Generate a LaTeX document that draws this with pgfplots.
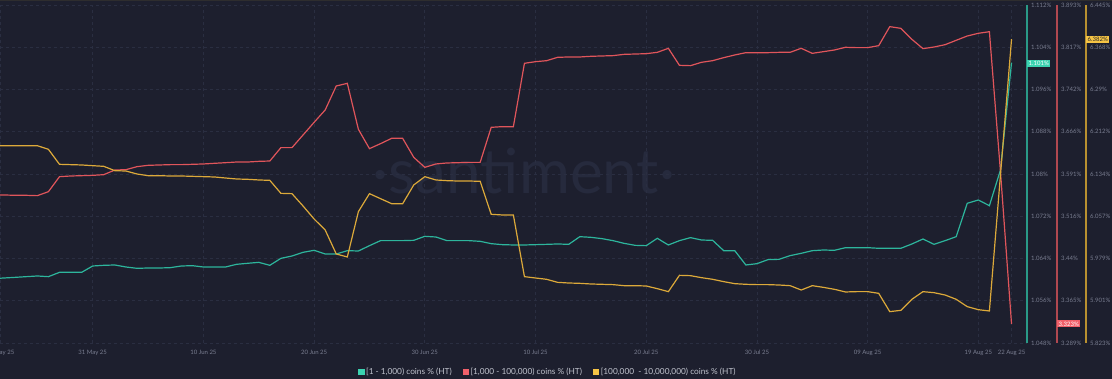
\documentclass[border=0pt]{standalone}
\usepackage{pgfplots}
\usepackage{pgfplotstable}
\pgfplotsset{compat=1.18}
\usepackage{fontspec}
\setmainfont{Lato}
\definecolor{bg}{HTML}{1D1F2E}
\definecolor{gridc}{HTML}{2A2E41}
\definecolor{tealc}{HTML}{2DB59C}
\definecolor{redc}{HTML}{E0555B}
\definecolor{yelc}{HTML}{DCA93A}
\definecolor{tealax}{HTML}{2A9A88}
\definecolor{redax}{HTML}{B04850}
\definecolor{yelax}{HTML}{B89030}
\definecolor{tealbadge}{HTML}{3BD2B0}
\definecolor{redbadge}{HTML}{F0606A}
\definecolor{yelbadge}{HTML}{F6C445}
\definecolor{tickc}{HTML}{7A7E91}
\definecolor{legc}{HTML}{BFC2CC}
\definecolor{wmc}{HTML}{262A3D}

\pgfplotstableread{
d v
-9 1.06018
-8 1.06031
-7 1.06043
-6 1.06056
-5 1.06069
-4 1.06056
-3 1.06138
-2 1.06138
-1 1.06138
0 1.06258
1 1.06271
2 1.06277
3 1.06239
4 1.06214
5 1.06220
6 1.06220
7 1.06226
8 1.06258
9 1.06264
10 1.06239
11 1.06239
12 1.06239
13 1.06290
14 1.06309
15 1.06327
16 1.06271
17 1.06403
18 1.06447
19 1.06517
20 1.06555
21 1.06485
22 1.06485
23 1.06548
24 1.06542
25 1.06643
26 1.06738
27 1.06738
28 1.06738
29 1.06744
30 1.06820
31 1.06807
32 1.06738
33 1.06738
34 1.06738
35 1.06725
36 1.06681
37 1.06662
38 1.06656
39 1.06656
40 1.06662
41 1.06668
42 1.06675
43 1.06668
44 1.06813
45 1.06801
46 1.06776
47 1.06738
48 1.06687
49 1.06649
50 1.06643
51 1.06782
52 1.06656
53 1.06738
54 1.06795
55 1.06750
56 1.06744
57 1.06548
58 1.06548
59 1.06277
60 1.06302
61 1.06378
62 1.06384
63 1.06454
64 1.06498
65 1.06548
66 1.06561
67 1.06555
68 1.06605
69 1.06605
70 1.06605
71 1.06593
72 1.06593
73 1.06593
74 1.06675
75 1.06769
76 1.06668
77 1.06738
78 1.06813
79 1.07445
80 1.07508
81 1.07400
82 1.08076
83 1.10108
}\tealtab

\pgfplotstableread{
d v
-9 3.5535
-8 3.5535
-7 3.5529
-6 3.5529
-5 3.5523
-4 3.5594
-3 3.5862
-2 3.5874
-1 3.5880
0 3.5886
1 3.5898
2 3.5981
3 3.5987
4 3.6041
5 3.6065
6 3.6071
7 3.6077
8 3.6077
9 3.6083
10 3.6089
11 3.6101
12 3.6112
13 3.6124
14 3.6124
15 3.6136
16 3.6142
17 3.6381
18 3.6381
19 3.6607
20 3.6833
21 3.7054
22 3.7483
23 3.7530
24 3.6708
25 3.6363
26 3.6452
27 3.6547
28 3.6547
29 3.6208
30 3.6029
31 3.6089
32 3.6107
33 3.6112
34 3.6118
35 3.6118
36 3.6744
37 3.6756
38 3.6756
39 3.7888
40 3.7917
41 3.7935
42 3.7995
43 3.8001
44 3.8001
45 3.8013
46 3.8019
47 3.8025
48 3.8048
49 3.8054
50 3.8060
51 3.8084
52 3.8156
53 3.7852
54 3.7846
55 3.7906
56 3.7935
57 3.7989
58 3.8037
59 3.8078
60 3.8078
61 3.8078
62 3.8084
63 3.8084
64 3.8156
65 3.8066
66 3.8096
67 3.8126
68 3.8174
69 3.8168
70 3.8168
71 3.8203
72 3.8543
73 3.8513
74 3.8316
75 3.8150
76 3.8179
77 3.8221
78 3.8299
79 3.8376
80 3.8424
81 3.8453
82 3.5952
83 3.323
}\redtab

\pgfplotstableread{
d v
-9 6.1861
-8 6.1861
-7 6.1861
-6 6.1861
-5 6.1861
-4 6.1794
-3 6.1518
-2 6.1512
-1 6.1506
0 6.1493
1 6.1481
2 6.1401
3 6.1395
4 6.1340
5 6.1309
6 6.1309
7 6.1303
8 6.1303
9 6.1297
10 6.1291
11 6.1285
12 6.1266
13 6.1248
14 6.1242
15 6.1230
16 6.1223
17 6.0984
18 6.0978
19 6.0751
20 6.0512
21 6.0310
22 5.9868
23 5.9813
24 6.0647
25 6.0978
26 6.0886
27 6.0794
28 6.0794
29 6.1138
30 6.1291
31 6.1230
32 6.1217
33 6.1211
34 6.1211
35 6.1205
36 6.0598
37 6.0586
38 6.0586
39 5.9451
40 5.9426
41 5.9402
42 5.9346
43 5.9334
44 5.9328
45 5.9316
46 5.9310
47 5.9304
48 5.9285
49 5.9285
50 5.9279
51 5.9230
52 5.9175
53 5.9475
54 5.9469
55 5.9432
56 5.9402
57 5.9359
58 5.9322
59 5.9310
60 5.9304
61 5.9304
62 5.9297
63 5.9285
64 5.9205
65 5.9285
66 5.9254
67 5.9218
68 5.9169
69 5.9175
70 5.9175
71 5.9144
72 5.8807
73 5.8831
74 5.9034
75 5.9175
76 5.9156
77 5.9113
78 5.9034
79 5.8899
80 5.8843
81 5.8819
82 6.1322
83 6.382
}\yeltab

\pgfplotsset{
  common/.style={
    scale only axis, height=338pt, at={(0pt,36pt)}, anchor=south west,
    xmin=-8.374, clip mode=individual,
    major tick length=0pt,
    /pgf/number format/assume math mode=true,
    tick label style={font=\fontsize{6}{7}\selectfont, text=tickc},
    yticklabel style={anchor=west, inner sep=0pt, xshift=4pt},
  },
  rscale/.style={
    axis y line*=right, axis x line=none,
    y axis line style={draw=#1, line width=1.5pt, -},
  },
}

\begin{document}
\begin{tikzpicture}[x=1pt,y=1pt]
\useasboundingbox (0,0) rectangle (1112,379);
\fill[bg] (0,0) rectangle (1112,379);
\fill[color={rgb,255:red,46;green,45;blue,46}] (0,377.8) rectangle (1112,379);
\node[text=wmc, font=\fontsize{62}{62}\selectfont, anchor=center] at (524,208) {·santiment·};

% teal (with grid, x labels, legend) drawn first so the grid lies beneath all lines
\begin{axis}[common, width=1027pt, xmax=84.40,
  ymin=1.048, ymax=1.112,
  axis x line*=bottom, axis y line*=right,
  x axis line style={draw=none},
  y axis line style={draw=tealax, line width=1.5pt, -},
  xtick={-8.374,0,10,20,30,40,50,60,70,80,83},
  xticklabels={22 May 25,31 May 25,10 Jun 25,20 Jun 25,30 Jun 25,10 Jul 25,20 Jul 25,30 Jul 25,09 Aug 25,19 Aug 25,22 Aug 25},
  xticklabel style={yshift=-4pt},
  ytick={1.048,1.056,1.064,1.072,1.08,1.088,1.096,1.104,1.112},
  yticklabels={1.048\%,1.056\%,1.064\%,1.072\%,1.08\%,1.088\%,1.096\%,1.104\%,1.112\%},
  xmajorgrids, ymajorgrids,
  grid style={gridc, line width=0.8pt, dash pattern=on 3pt off 3pt},
  legend columns=3,
  legend style={at={(rel axis cs:0.5336,-0.0858)}, anchor=center, draw=none, fill=none,
    text=legc, font=\fontsize{8.3}{10}\selectfont,
    /tikz/every even column/.append style={column sep=9pt}},
]
\addplot[tealc, line width=1.2pt, forget plot] table[x=d,y=v] {\tealtab};
\node[fill=tealbadge, text=white, font=\fontsize{6}{7}\selectfont, inner sep=0.9pt, minimum height=7pt, anchor=west] at (axis cs:84.40,1.101) {\hspace{0.6pt}1.101\%};
\addlegendimage{legend image code/.code={\fill[tealbadge] (0pt,-2.7pt) rectangle (5.4pt,2.7pt);}}
\addlegendentry{[1 - 1,000) coins \% (HT)}
\addlegendimage{legend image code/.code={\fill[redbadge] (0pt,-2.7pt) rectangle (5.4pt,2.7pt);}}
\addlegendentry{[1,000 - 100,000) coins \% (HT)}
\addlegendimage{legend image code/.code={\fill[yelbadge] (0pt,-2.7pt) rectangle (5.4pt,2.7pt);}}
\addlegendentry{[100,000\ \ - 10,000,000) coins \% (HT)}
\end{axis}

% red
\begin{axis}[common, rscale=redax, width=1057pt, xmax=87.11,
  ymin=3.289, ymax=3.893,
  ytick={3.289,3.3645,3.44,3.5155,3.591,3.6665,3.742,3.8175,3.893},
  yticklabels={3.289\%,3.365\%,3.44\%,3.516\%,3.591\%,3.666\%,3.742\%,3.817\%,3.893\%}]
\addplot[redc, line width=1.2pt] table[x=d,y=v] {\redtab};
\node[fill=redbadge, text=white, font=\fontsize{6}{7}\selectfont, inner sep=0.9pt, minimum height=7pt, anchor=west] at (axis cs:87.11,3.323) {\hspace{0.6pt}3.323\%};
\end{axis}

% yellow
\begin{axis}[common, rscale=yelax, width=1086pt, xmax=89.73,
  ymin=5.823, ymax=6.445,
  ytick={5.823,5.90075,5.9785,6.05625,6.134,6.21175,6.2895,6.36725,6.445},
  yticklabels={5.823\%,5.901\%,5.979\%,6.057\%,6.134\%,6.212\%,6.29\%,6.368\%,6.445\%}]
\addplot[yelc, line width=1.2pt] table[x=d,y=v] {\yeltab};
\node[fill=yelbadge, text=black!85, font=\fontsize{6}{7}\selectfont, inner sep=0.9pt, minimum height=7pt, anchor=west] at (axis cs:89.73,6.382) {\hspace{0.6pt}6.382\%};
\end{axis}
\end{tikzpicture}
\end{document}
